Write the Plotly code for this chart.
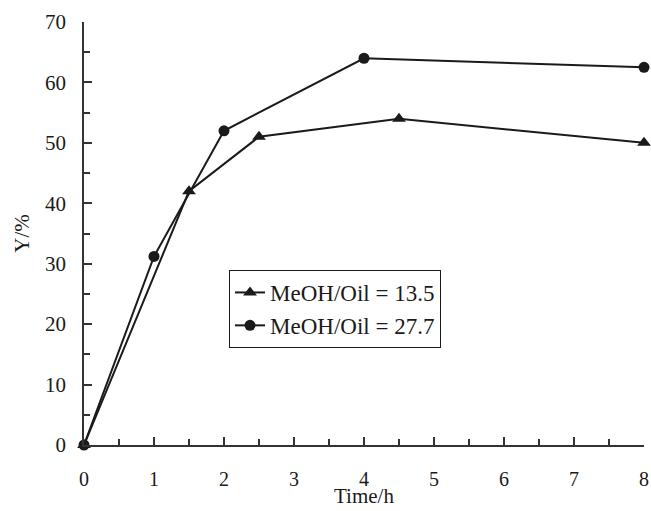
import plotly.graph_objects as go

time_a = [0, 1.5, 2.5, 4.5, 8]
yield_a = [0, 42, 51, 54, 50]
time_b = [0, 1, 2, 4, 8]
yield_b = [0, 31.2, 52, 64, 62.5]
name_a = "MeOH/Oil = 13.5"
name_b = "MeOH/Oil = 27.7"
x_ticks = [0, 1, 2, 3, 4, 5, 6, 7, 8]
y_ticks = [0, 10, 20, 30, 40, 50, 60, 70]

FONT = "Liberation Serif"
INK = "#1a1a1a"

fig = go.Figure()
fig.add_trace(go.Scatter(x=time_a, y=yield_a, mode="lines+markers", name=name_a,
                         line=dict(color=INK, width=2),
                         marker=dict(symbol="triangle-up", size=12, color=INK),
                         cliponaxis=False))
fig.add_trace(go.Scatter(x=time_b, y=yield_b, mode="lines+markers", name=name_b,
                         line=dict(color=INK, width=2),
                         marker=dict(symbol="circle", size=11, color=INK),
                         cliponaxis=False))

fig.update_layout(
    width=651, height=511,
    margin=dict(l=84, r=7, t=22, b=66),
    paper_bgcolor="white", plot_bgcolor="white",
    font=dict(family=FONT, size=21, color=INK),
    showlegend=True,
    legend=dict(x=(229 - 84) / 560, y=(445 - 270) / 423, xanchor="left", yanchor="top",
                bordercolor=INK, borderwidth=1, bgcolor="white",
                font=dict(family=FONT, size=23, color=INK),
                tracegroupgap=0, itemwidth=30),
    annotations=[dict(text="Time/h", xref="paper", yref="paper", x=0.5, y=-0.1537,
                      xanchor="center", yanchor="bottom", showarrow=False,
                      font=dict(family=FONT, size=21, color=INK))],
)
fig.update_xaxes(range=[0, 8], tickvals=x_ticks, ticktext=[str(v) for v in x_ticks],
                 automargin=False, tickfont=dict(family=FONT, size=20, color=INK),
                 showgrid=False, zeroline=False, showline=True, linecolor="#333", linewidth=1.5,
                 ticks="inside", ticklen=8, tickwidth=1.5, tickcolor="#333",
                 minor=dict(ticks="inside", ticklen=6, dtick=0.5, tickcolor="#333", tickwidth=1.5),
                 ticklabelstandoff=15)
fig.update_yaxes(range=[0, 70], tickvals=y_ticks, ticktext=[str(v) for v in y_ticks],
                 automargin=False,
                 showgrid=False, zeroline=False, showline=True, linecolor="#333", linewidth=1.5,
                 ticks="inside", ticklen=8, tickwidth=1.5, tickcolor="#333",
                 minor=dict(ticks="inside", ticklen=6, dtick=5, tickcolor="#333", tickwidth=1.5),
                 ticklabelstandoff=12,
                 title=dict(text="Y/%", standoff=10, font=dict(family=FONT, size=21)))

fig.write_html("out.html", config={"displayModeBar": False},
               post_script="document.body.style.margin='0';document.body.style.overflow='hidden';")
